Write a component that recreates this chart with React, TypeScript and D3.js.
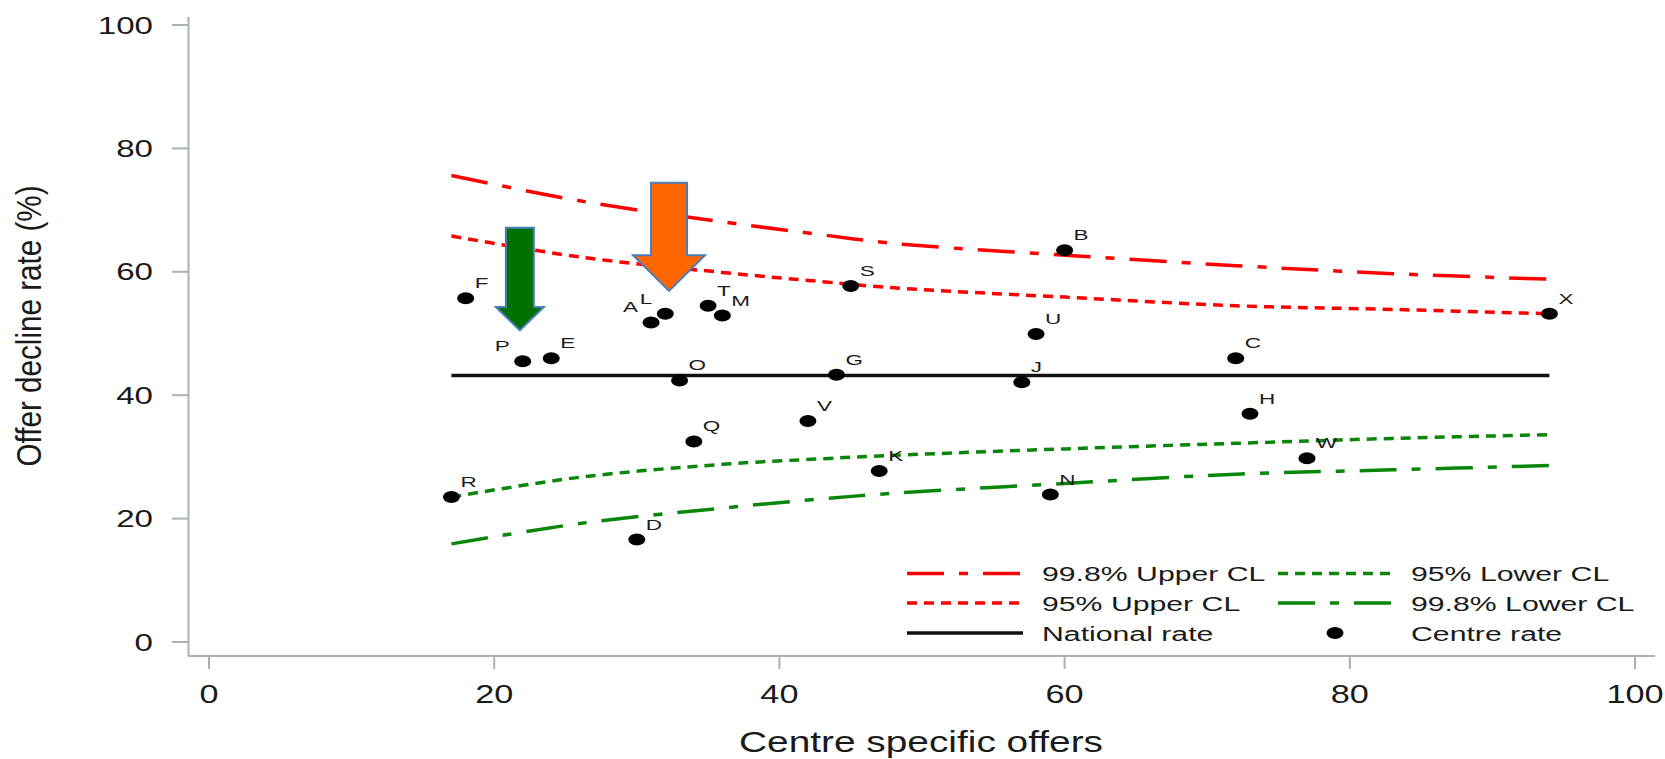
import React, { useEffect } from "react";
import * as d3 from "d3";

// ---------- data ----------
const centreNames = ["F", "P", "E", "A", "L", "T", "M", "O", "S", "G", "B", "U", "J", "C", "X", "H", "V", "Q", "K", "W", "N", "R", "D"];
const centreOffers = [18, 22, 24, 31, 32, 35, 36, 33, 45, 44, 60, 58, 57, 72, 94, 73, 42, 34, 47, 77, 59, 17, 30];
const centreRates = [55.7, 45.5, 46.0, 51.8, 53.2, 54.5, 52.9, 42.4, 57.7, 43.3, 63.5, 49.9, 42.1, 46.0, 53.2, 37.0, 35.8, 32.5, 27.7, 29.8, 23.9, 23.5, 16.6];
const leftLabels = ["P", "A", "L"];

const nationalRate = 43.2;
const clOffers = [17, 26, 36, 43, 48, 60, 72, 83, 94];
const upper998 = [75.6, 71.5, 68.1, 66.0, 64.6, 62.7, 61.0, 59.7, 58.8];
const upper95 = [65.8, 62.4, 59.9, 58.4, 57.4, 55.9, 54.5, 53.9, 53.2];
const lower95 = [23.5, 26.7, 28.8, 29.7, 30.25, 31.3, 32.2, 33.0, 33.6];
const lower998 = [15.9, 19.2, 21.7, 23.2, 24.1, 25.7, 27.2, 27.9, 28.6];

const xTicks = [0, 20, 40, 60, 80, 100];
const yTicks = [0, 20, 40, 60, 80, 100];

// annotation arrows (data coords): centre x, top y, head-start y, tip y
const arrowX = [21.8, 32.26];
const arrowTop = [67.15, 74.45];
const arrowHead = [54.3, 62.7];
const arrowTip = [50.5, 56.9];
const arrowFill = ["#007000", "#ff6600"];

// ---------- layout ----------
const W = 1665;
const H = 759;
const x = d3.scaleLinear().domain([0, 100]).range([209, 1635]);
const y = d3.scaleLinear().domain([0, 100]).range([642, 25]);

const RED = "#ff0000";
const GREEN = "#0a870a";
const AXIS = "#a9b1b1";
const DASH998 = "37,15,9,15";
const DASH95 = "10,7";

function SText(props: any) {
  const { x: tx, y: ty, k = 1.4, size, anchor = "start", fill = "#111", children, family = "'Liberation Sans', Arial, sans-serif", textLength } = props;
  return (
    <text
      transform={`translate(${tx},${ty}) scale(${k},1)`}
      textAnchor={anchor}
      fontSize={size}
      fontFamily={family}
      fill={fill}
      textLength={textLength}
      lengthAdjust={textLength ? "spacingAndGlyphs" : undefined}
    >
      {children}
    </text>
  );
}

export default function App() {
  useEffect(() => {
    document.body.style.margin = "0";
  }, []);

  const line = d3
    .line<number>()
    .x((_, i) => x(clOffers[i]))
    .y((d) => y(d))
    .curve(d3.curveCatmullRom.alpha(0.5));

  const arrows = arrowX.map((ax, i) => {
    const cx = x(ax);
    const sw = i === 0 ? 14 : 18;
    const hw = i === 0 ? 24 : 36;
    const t = y(arrowTop[i]);
    const h = y(arrowHead[i]);
    const p = y(arrowTip[i]);
    const d = `M${cx - sw},${t}L${cx + sw},${t}L${cx + sw},${h}L${cx + hw},${h}L${cx},${p}L${cx - hw},${h}L${cx - sw},${h}Z`;
    return <path key={i} d={d} fill={arrowFill[i]} stroke="#4a7ebb" strokeWidth={2} strokeLinejoin="miter" />;
  });

  const legendRows = [573.5, 603, 633];
  const legCol1 = [907, 1023, 1042];
  const legCol2 = [1278, 1394, 1411];
  const legendItems = [
    { col: legCol1, row: 0, label: "99.8% Upper CL", color: RED, dash: DASH998, kind: "line" },
    { col: legCol1, row: 1, label: "95% Upper CL", color: RED, dash: DASH95, kind: "line" },
    { col: legCol1, row: 2, label: "National rate", color: "#111", dash: undefined, kind: "line" },
    { col: legCol2, row: 0, label: "95% Lower CL", color: GREEN, dash: DASH95, kind: "line" },
    { col: legCol2, row: 1, label: "99.8% Lower CL", color: GREEN, dash: DASH998, kind: "line" },
    { col: legCol2, row: 2, label: "Centre rate", color: "#000", dash: undefined, kind: "dot" },
  ];

  return (
    <svg width={W} height={H} style={{ position: "absolute", left: 0, top: 0, background: "#fff" }}>
      <rect x={0} y={0} width={W} height={H} fill="#fff" />
      {/* axes */}
      <line x1={188.5} x2={188.5} y1={17} y2={656} stroke={AXIS} strokeWidth={2} />
      <line x1={188} x2={1655} y1={656} y2={656} stroke={AXIS} strokeWidth={2} />
      {yTicks.map((t) => (
        <g key={"yt" + t}>
          <line x1={172} x2={188} y1={y(t)} y2={y(t)} stroke={AXIS} strokeWidth={2} />
          <SText x={153} y={y(t) + 8.6} size={24} k={1.38} anchor="end" fill="#1a1a1a">
            {t}
          </SText>
        </g>
      ))}
      {xTicks.map((t) => (
        <g key={"xt" + t}>
          <line x1={x(t)} x2={x(t)} y1={656} y2={669} stroke={AXIS} strokeWidth={2} />
          <SText x={x(t)} y={703} size={25} k={1.37} anchor="middle" fill="#1a1a1a">
            {t}
          </SText>
        </g>
      ))}
      <SText x={(x(0) + x(100)) / 2 - 1} y={752} size={29} k={1} anchor="middle" fill="#1a1a1a" textLength={364}>
        Centre specific offers
      </SText>
      <text
        transform={`translate(41,326) scale(1.25,1) rotate(-90)`}
        textAnchor="middle"
        fontSize={28}
        fontFamily="'Liberation Sans', Arial, sans-serif"
        fill="#1a1a1a"
        textLength={281}
        lengthAdjust="spacingAndGlyphs"
      >
        Offer decline rate (%)
      </text>

      {/* control limits */}
      <path d={line(upper998) || ""} fill="none" stroke={RED} strokeWidth={3.5} strokeDasharray={DASH998} />
      <path d={line(upper95) || ""} fill="none" stroke={RED} strokeWidth={3.5} strokeDasharray={DASH95} />
      <path d={line(lower95) || ""} fill="none" stroke={GREEN} strokeWidth={3.5} strokeDasharray={DASH95} />
      <path d={line(lower998) || ""} fill="none" stroke={GREEN} strokeWidth={3.5} strokeDasharray={DASH998} />
      <line
        x1={x(clOffers[0])}
        x2={x(clOffers[clOffers.length - 1])}
        y1={y(nationalRate)}
        y2={y(nationalRate)}
        stroke="#111"
        strokeWidth={3.5}
      />

      {/* centres */}
      {centreNames.map((n, i) => {
        const cx = x(centreOffers[i]);
        const cy = y(centreRates[i]);
        const left = leftLabels.includes(n);
        return (
          <g key={n}>
            <ellipse cx={cx} cy={cy} rx={8.5} ry={6} fill="#000" />
            <SText x={left ? cx - 13 : cx + 9} y={cy - 10} size={15} k={1.5} anchor={left ? "end" : "start"} fill="#1c1c1c">
              {n}
            </SText>
          </g>
        );
      })}

      {/* arrows */}
      {arrows}

      {/* legend */}
      {legendItems.map((it, i) => {
        const ry = legendRows[it.row];
        return (
          <g key={"lg" + i}>
            {it.kind === "line" ? (
              <line x1={it.col[0]} x2={it.col[1]} y1={ry} y2={ry} stroke={it.color} strokeWidth={3.5} strokeDasharray={it.dash} />
            ) : (
              <ellipse cx={(it.col[0] + it.col[1]) / 2 - 1} cy={ry} rx={8.5} ry={6} fill="#000" />
            )}
            <SText x={it.col[2]} y={ry + 7.5} size={21} k={1.44} fill="#1a1a1a">
              {it.label}
            </SText>
          </g>
        );
      })}
    </svg>
  );
}
